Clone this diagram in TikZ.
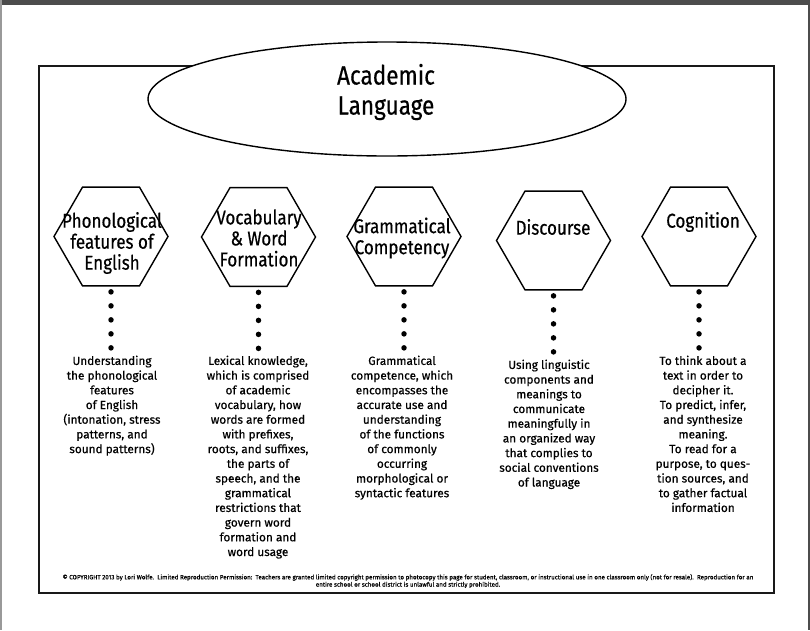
\documentclass[tikz,border=0pt]{standalone}
\usepackage{fontspec}
\setmainfont{Fira Sans}
\newfontfamily\bodyfont[FakeBold=0.5]{Fira Sans}
\newfontfamily\titlefont[FakeStretch=0.85,FakeBold=0.5]{Fira Sans}
\usetikzlibrary{shapes.geometric}
\begin{document}
\begin{tikzpicture}[x=1pt,y=-1pt,
  hexa/.style={regular polygon, regular polygon sides=6, minimum size=114pt, inner sep=0pt, outer sep=0pt, draw=black, line width=1.4pt},
  htitle/.style={font=\titlefont\fontsize{20}{21}\selectfont, align=center, inner sep=0pt},
  body/.style={font=\bodyfont\fontsize{11.8}{14.7}\selectfont, align=center, inner sep=0pt, anchor=north},
  dotline/.style={line width=5.5pt, line cap=round, dash pattern=on 0pt off 14pt},
]
\useasboundingbox (0,0) rectangle (810,630);
\fill[white] (0,0) rectangle (810,630);
\fill[black!70] (0,0) rectangle (810,4.5);
\fill[black!40] (0,0) rectangle (1.5,630);
\fill[black!70] (807.5,0) rectangle (810,630);
\draw[line width=2.4pt, black!90] (39,66) rectangle (774,593);
\node[ellipse, draw, fill=white, line width=1.4pt, minimum width=478pt, minimum height=114pt, inner sep=0pt, outer sep=0pt] (al) at (387,99) {};
\node[font=\titlefont\fontsize{26.5}{30}\selectfont, align=center, inner sep=0pt] (altext) at (386,92) {Academic\\Language};

\node[hexa] (h1) at (111,236.5) {};
\node[hexa] (h2) at (258.5,237) {};
\node[hexa] (h3) at (404,236.5) {};
\node[hexa] (h4) at (553.5,240.5) {};
\node[hexa] (h5) at (699,236.5) {};

\node[htitle] (ht1) at (112,243) {Phonological\\features of\\English};
\node[htitle] (ht2) at (259,238) {Vocabulary\\\& Word\\Formation};
\node[htitle] (ht3) at (402,238) {Grammatical\\Competency};
\node[htitle] (ht4) at (553,227) {Discourse};
\node[htitle] (ht5) at (703,222) {Cognition};

\foreach \h in {h1,h2,h3,h4,h5}{
  \draw[dotline] ([yshift=-6pt]\h.south) -- ++(0,56.5);
}

\node[body] (t1) at (112,355.5) {Understanding\\the phonological\\features\\of English\\(intonation, stress\\patterns, and\\sound patterns)};
\node[body] (t2) at (258,355.5) {Lexical knowledge,\\which is comprised\\of academic\\vocabulary, how\\words are formed\\with prefixes,\\roots, and suffixes,\\the parts of\\speech, and the\\grammatical\\restrictions that\\govern word\\formation and\\word usage};
\node[body] (t3) at (402,355.5) {Grammatical\\competence, which\\encompasses the\\accurate use and\\understanding\\of the functions\\of commonly\\occurring\\morphological or\\syntactic features};
\node[body] (t4) at (549,359.5) {Using linguistic\\components and\\meanings to\\communicate\\meaningfully in\\an organized way\\that complies to\\social conventions\\of language};
\node[body] (t5) at (703,355.5) {To think about a\\text in order to\\decipher it.\\To predict, infer,\\and synthesize\\meaning.\\To read for a\\purpose, to ques-\\tion sources, and\\to gather factual\\information};

\node[font=\bodyfont\fontsize{6.2}{7.3}\selectfont, align=center, inner sep=0pt] (copy) at (408,581) {© COPYRIGHT 2013 by Lori Wolfe.\ \ Limited Reproduction Permission:\ \ Teachers are granted limited copyright permission to photocopy this page for student, classroom, or instructional use in one classroom only (not for resale).\ \ Reproduction for an\\entire school or school district is unlawful and strictly prohibited.};
\end{tikzpicture}
\end{document}
